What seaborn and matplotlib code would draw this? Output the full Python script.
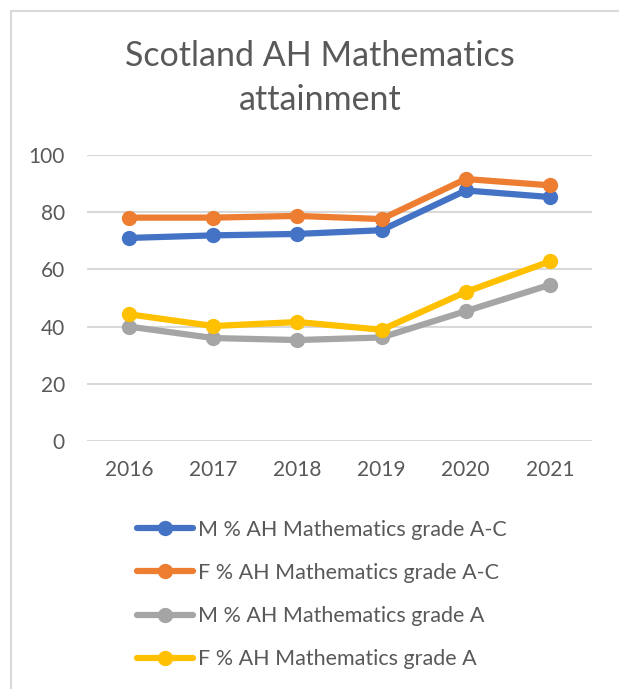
import matplotlib
matplotlib.use("Agg")
import matplotlib.pyplot as plt
import seaborn as sns
import pandas as pd
from matplotlib.lines import Line2D

years = [2016, 2017, 2018, 2019, 2020, 2021]
series_names = [
    "M % AH Mathematics grade A-C",
    "F % AH Mathematics grade A-C",
    "M % AH Mathematics grade A",
    "F % AH Mathematics grade A",
]
m_ac = [71.0, 71.9, 72.4, 73.7, 87.6, 85.3]
f_ac = [78.1, 78.1, 78.7, 77.6, 91.6, 89.4]
m_a = [40.0, 36.0, 35.3, 36.2, 45.4, 54.6]
f_a = [44.3, 40.2, 41.6, 38.9, 52.1, 62.8]
colors = ["#4472c4", "#ed7d31", "#a5a5a5", "#ffc000"]

rows = []
for name, vals in zip(series_names, [m_ac, f_ac, m_a, f_a]):
    for y, v in zip(years, vals):
        rows.append({"year": y, "value": v, "series": name})
df = pd.DataFrame(rows)

sns.set_theme(style="white")
plt.rcParams["font.family"] = ["Lato", "DejaVu Sans"]
grey = "#595959"

fig = plt.figure(figsize=(6.19, 6.89), dpi=100)
ax = fig.add_axes([87 / 619, 248 / 689, 505 / 619, 286 / 689])

sns.lineplot(data=df, x="year", y="value", hue="series", hue_order=series_names,
             palette=colors, marker="o", markersize=11, markeredgewidth=0,
             linewidth=4.5, ax=ax, legend=True)

ax.set_xlim(2015.5, 2021.5)
ax.set_ylim(0, 100)
ax.set_yticks([0, 20, 40, 60, 80, 100])
ax.set_xticks(years)
ax.set_xlabel("")
ax.set_ylabel("")
ax.grid(axis="y", color="#d9d9d9", linewidth=1.5)
ax.set_axisbelow(True)
for s in ax.spines.values():
    s.set_visible(False)
ax.tick_params(axis="both", length=0, labelsize=15, colors=grey)
ax.tick_params(axis="x", pad=14)
ax.tick_params(axis="y", pad=16)

handles, labels = ax.get_legend_handles_labels()
ax.get_legend().remove()
fig.legend(handles, labels, loc="upper left", bbox_to_anchor=(128 / 619, 1 - 511 / 689),
           frameon=False, fontsize=15.5, labelcolor=grey, handlelength=2.6,
           handletextpad=0.25, labelspacing=1.08, borderaxespad=0)

fig.text(320 / 619, 1 - 78 / 689, "Scotland AH Mathematics\nattainment", ha="center",
         va="center", fontsize=24.5, color=grey, linespacing=1.5)

# chart border (top and left only visible)
border = dict(color="#d9d9d9", linewidth=1.5, transform=fig.transFigure)
fig.lines.append(Line2D([11 / 619, 11 / 619], [0, 1 - 11 / 689], **border))
fig.lines.append(Line2D([11 / 619, 1], [1 - 11 / 689, 1 - 11 / 689], **border))

fig.savefig("out.png", dpi=100)
